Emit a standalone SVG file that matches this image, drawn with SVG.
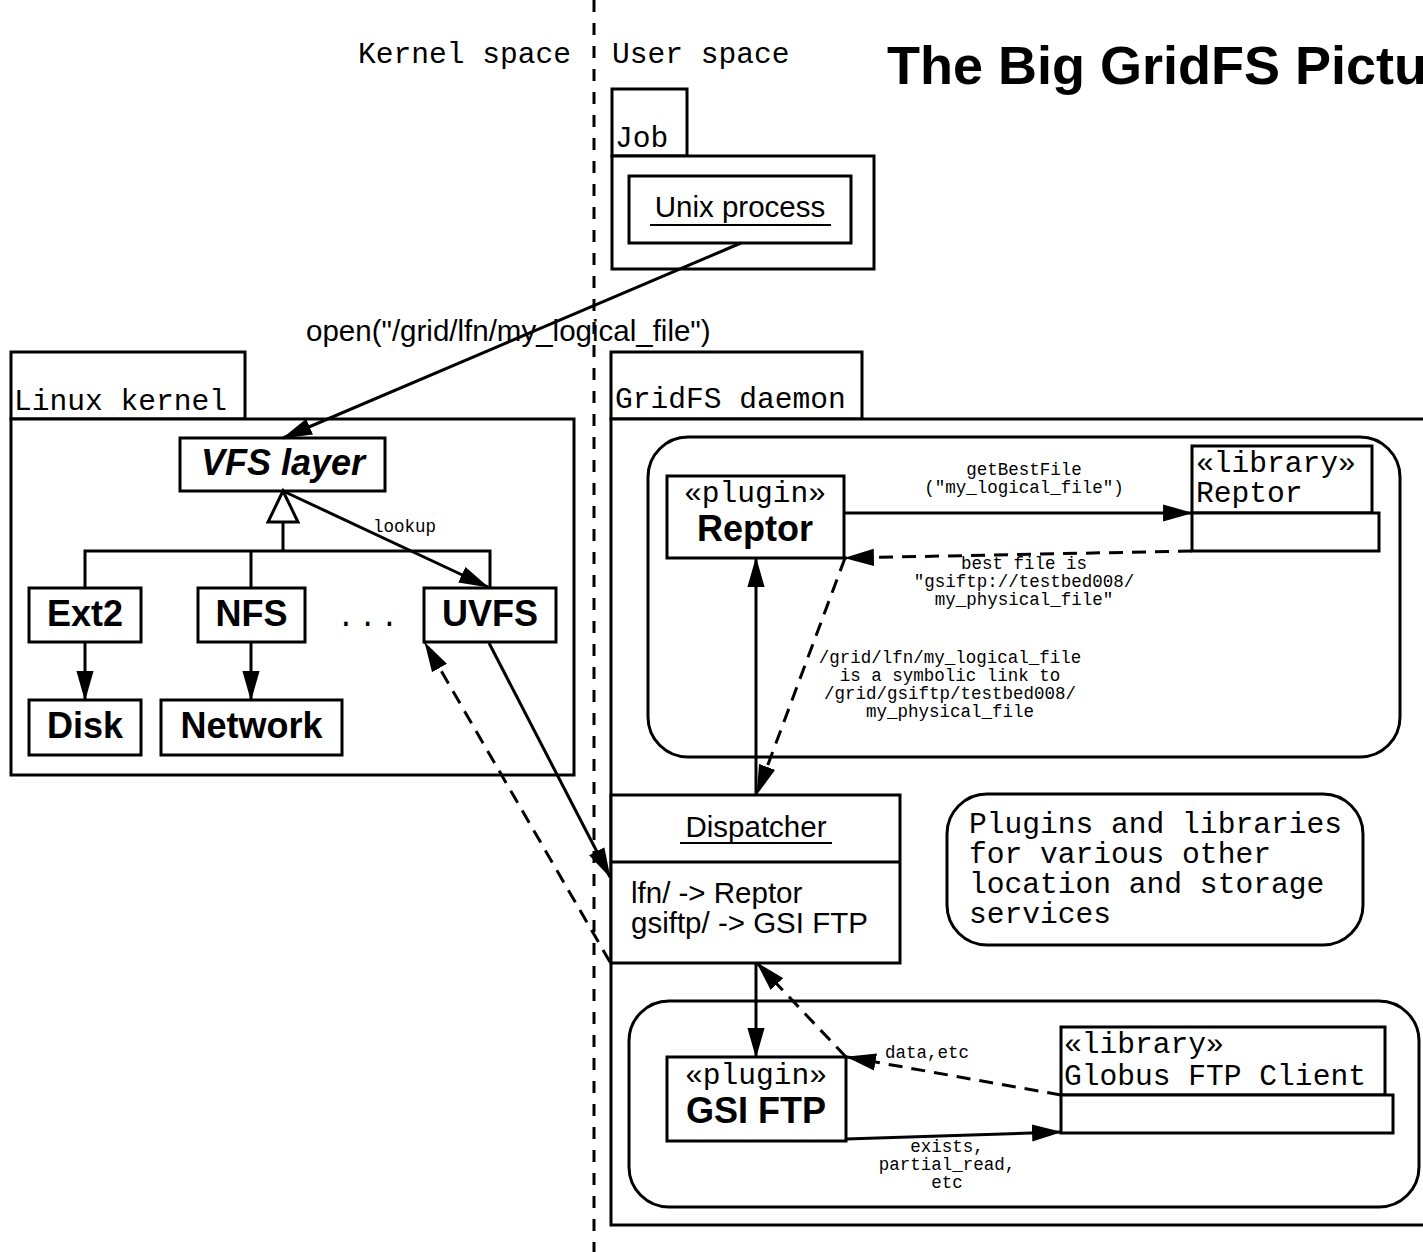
<svg xmlns="http://www.w3.org/2000/svg" width="1423" height="1252" viewBox="0 0 1423 1252">
  <defs>
    <marker id="arrow" markerUnits="userSpaceOnUse" markerWidth="30" markerHeight="18" viewBox="0 0 28 16" refX="27" refY="8" orient="auto">
      <path d="M0,0 L28,8 L0,16 z" fill="#000"/>
    </marker>
  </defs>
  <style>
    .box{fill:#fff;stroke:#000;stroke-width:3}
    .mono{font-family:"Liberation Mono","DejaVu Sans Mono",monospace;font-size:29.6px;fill:#000}
    .small{font-family:"Liberation Mono","DejaVu Sans Mono",monospace;font-size:17.5px;fill:#000}
    .sans{font-family:"Liberation Sans",Arial,sans-serif;font-size:29.5px;fill:#000}
    .bold{font-family:"Liberation Sans",Arial,sans-serif;font-weight:bold;font-size:36px;fill:#000}
    .c{text-anchor:middle}
    .line{stroke:#000;stroke-width:3;fill:none}
    .dash{stroke-dasharray:14 9}
    .ul{stroke:#000;stroke-width:2}
  </style>
  <rect width="1423" height="1252" fill="#fff"/>

  <!-- kernel / user space divider -->
  <g id="divider">
    <line x1="594" y1="0" x2="594" y2="1252" stroke="#000" stroke-width="3" stroke-dasharray="12 11"/>
    <text class="mono" x="358" y="63">Kernel space</text>
    <text class="mono" x="612" y="63">User space</text>
  </g>

  <text id="title" x="887" y="84" font-family="'Liberation Sans',Arial,sans-serif" font-weight="bold" font-size="54">The Big GridFS Picture</text>

  <!-- Job package -->
  <g id="job">
    <rect class="box" x="612" y="89" width="75" height="67"/>
    <rect class="box" x="612" y="156" width="262" height="113"/>
    <text class="mono" x="615" y="147">Job</text>
  </g>
  <g id="unix-process">
    <rect class="box" x="629" y="176" width="222" height="67"/>
    <text class="sans c" x="740" y="217">Unix process</text>
    <line class="ul" x1="650" y1="225" x2="831" y2="225"/>
  </g>

  <!-- Linux kernel package -->
  <g id="linux-kernel">
    <rect class="box" x="11" y="352" width="234" height="67"/>
    <rect class="box" x="11" y="419" width="563" height="356"/>
    <text class="mono" x="14" y="410">Linux kernel</text>
  </g>
  <g id="vfs">
    <rect class="box" x="180" y="438" width="205" height="53"/>
    <text class="bold c" x="283" y="475" font-style="italic">VFS layer</text>
  </g>
  <g id="ext2">
    <rect class="box" x="29" y="588" width="112" height="54"/>
    <text class="bold c" x="85" y="626">Ext2</text>
  </g>
  <g id="nfs">
    <rect class="box" x="198" y="588" width="107" height="54"/>
    <text class="bold c" x="251.5" y="626">NFS</text>
  </g>
  <g id="ellipsis">
    <text class="mono" x="337" y="626" letter-spacing="4">...</text>
  </g>
  <g id="uvfs">
    <rect class="box" x="424" y="588" width="132" height="54"/>
    <text class="bold c" x="490" y="626">UVFS</text>
  </g>
  <g id="disk">
    <rect class="box" x="29" y="700" width="112" height="55"/>
    <text class="bold c" x="85" y="738">Disk</text>
  </g>
  <g id="network">
    <rect class="box" x="161" y="700" width="181" height="55"/>
    <text class="bold c" x="251.5" y="738">Network</text>
  </g>

  <!-- GridFS daemon package -->
  <g id="gridfs-daemon">
    <rect class="box" x="611" y="352" width="251" height="67"/>
    <rect class="box" x="611" y="419" width="840" height="806"/>
    <text class="mono" x="615" y="408">GridFS daemon</text>
  </g>
  <g id="reptor-group">
    <rect class="box" x="648" y="437" width="752" height="320" rx="40" ry="40"/>
  </g>
  <g id="reptor-plugin">
    <rect class="box" x="667" y="476" width="177" height="82"/>
    <text class="mono c" x="755" y="502">«plugin»</text>
    <text class="bold c" x="755" y="541">Reptor</text>
  </g>
  <g id="reptor-library">
    <rect class="box" x="1192" y="446" width="180" height="67"/>
    <rect class="box" x="1192" y="513" width="187" height="38"/>
    <text class="mono" x="1196" y="472">«library»</text>
    <text class="mono" x="1196" y="502">Reptor</text>
  </g>
  <g id="dispatcher">
    <rect class="box" x="611" y="795" width="289" height="168"/>
    <line class="line" x1="611" y1="862" x2="900" y2="862"/>
    <text class="sans c" x="756" y="837">Dispatcher</text>
    <line class="ul" x1="680" y1="843" x2="832" y2="843"/>
    <text class="sans" x="631" y="903">lfn/ -&gt; Reptor</text>
    <text class="sans" x="631" y="933">gsiftp/ -&gt; GSI FTP</text>
  </g>
  <g id="other-plugins">
    <rect class="box" x="947" y="794" width="416" height="151" rx="40" ry="40"/>
    <text class="mono" x="969" y="833">Plugins and libraries</text>
    <text class="mono" x="969" y="863">for various other</text>
    <text class="mono" x="969" y="893">location and storage</text>
    <text class="mono" x="969" y="923">services</text>
  </g>
  <g id="gsiftp-group">
    <rect class="box" x="629" y="1001" width="790" height="206" rx="40" ry="40"/>
  </g>
  <g id="gsiftp-plugin">
    <rect class="box" x="667" y="1057" width="179" height="84"/>
    <text class="mono c" x="756" y="1084">«plugin»</text>
    <text class="bold c" x="756" y="1123">GSI FTP</text>
  </g>
  <g id="globus-library">
    <rect class="box" x="1061" y="1027" width="324" height="68"/>
    <rect class="box" x="1061" y="1095" width="332" height="38"/>
    <text class="mono" x="1064" y="1053">«library»</text>
    <text class="mono" x="1064" y="1085">Globus FTP Client</text>
  </g>

  <!-- connectors -->
  <g id="connectors">
    <line class="line" x1="741" y1="243" x2="283" y2="438" marker-end="url(#arrow)"/>
    <text class="sans" x="306" y="341">open("/grid/lfn/my_logical_file")</text>

    <!-- generalisation tree -->
    <polyline class="line" points="85,588 85,551 490,551 490,588"/>
    <line class="line" x1="251" y1="551" x2="251" y2="588"/>
    <line class="line" x1="283" y1="551" x2="283" y2="522"/>
    <polygon points="283,491 268,522 298,522" fill="#fff" stroke="#000" stroke-width="3"/>

    <line class="line" x1="283" y1="491" x2="488" y2="587" marker-end="url(#arrow)"/>
    <text class="small" x="373" y="532">lookup</text>

    <line class="line" x1="85" y1="642" x2="85" y2="700" marker-end="url(#arrow)"/>
    <line class="line" x1="251" y1="642" x2="251" y2="700" marker-end="url(#arrow)"/>

    <line class="line" x1="489" y1="643" x2="610" y2="877" marker-end="url(#arrow)"/>
    <line class="line dash" x1="610" y1="962" x2="425" y2="643" marker-end="url(#arrow)"/>

    <line class="line" x1="844" y1="513" x2="1192" y2="513" marker-end="url(#arrow)"/>
    <text class="small c" x="1024" y="475">getBestFile</text>
    <text class="small c" x="1024" y="493">("my_logical_file")</text>

    <line class="line dash" x1="1192" y1="551" x2="845" y2="558" marker-end="url(#arrow)"/>
    <text class="small c" x="1024" y="569">best file is</text>
    <text class="small c" x="1024" y="587">"gsiftp://testbed008/</text>
    <text class="small c" x="1024" y="605">my_physical_file"</text>

    <line class="line dash" x1="845" y1="558" x2="757" y2="794" marker-end="url(#arrow)"/>
    <text class="small c" x="950" y="663">/grid/lfn/my_logical_file</text>
    <text class="small c" x="950" y="681">is a symbolic link to</text>
    <text class="small c" x="950" y="699">/grid/gsiftp/testbed008/</text>
    <text class="small c" x="950" y="717">my_physical_file</text>

    <line class="line" x1="756" y1="794" x2="756" y2="558" marker-end="url(#arrow)"/>

    <line class="line" x1="756" y1="963" x2="756" y2="1057" marker-end="url(#arrow)"/>
    <line class="line dash" x1="846" y1="1057" x2="757" y2="963" marker-end="url(#arrow)"/>

    <line class="line dash" x1="1061" y1="1095" x2="847" y2="1057" marker-end="url(#arrow)"/>
    <text class="small" x="885" y="1058">data,etc</text>

    <line class="line" x1="846" y1="1139" x2="1061" y2="1132" marker-end="url(#arrow)"/>
    <text class="small c" x="947" y="1152">exists,</text>
    <text class="small c" x="947" y="1170">partial_read,</text>
    <text class="small c" x="947" y="1188">etc</text>
  </g>
</svg>
